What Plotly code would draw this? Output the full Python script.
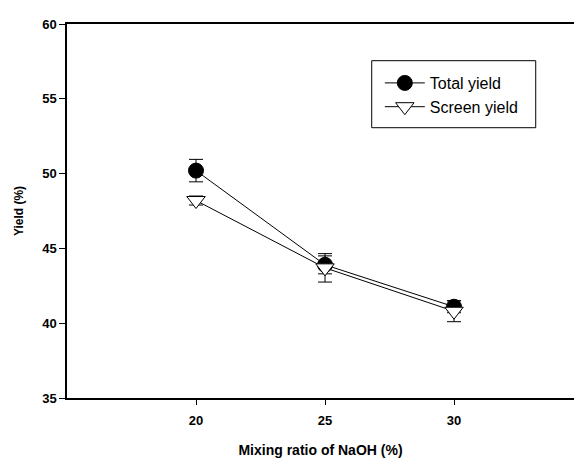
import plotly.graph_objects as go

x_vals = [20, 25, 30]
total_yield = [50.2, 43.9, 41.1]
total_err = [0.75, 0.6, 0.4]
screen_yield = [48.2, 43.7, 40.8]
screen_err = [0.3, 0.95, 0.7]
x_ticks = [20, 25, 30]
y_ticks = [35, 40, 45, 50, 55, 60]

FONT = "Liberation Sans, Arial, sans-serif"

fig = go.Figure()
fig.add_trace(go.Scatter(
    x=x_vals, y=total_yield, name="Total yield", mode="lines+markers",
    line=dict(color="black", width=1),
    marker=dict(symbol="circle", size=15, color="black", line=dict(color="black", width=1)),
    error_y=dict(type="data", array=total_err, visible=True, color="black", thickness=1, width=7),
))
fig.add_trace(go.Scatter(
    x=x_vals, y=screen_yield, name="Screen yield", mode="lines+markers",
    line=dict(color="black", width=1),
    marker=dict(symbol="triangle-down", size=16, color="white", line=dict(color="black", width=1)),
    error_y=dict(type="data", array=screen_err, visible=True, color="black", thickness=1, width=7),
))

# legend frame
fig.add_shape(type="rect", xref="paper", yref="paper",
              x0=0.601, x1=0.9245, y0=0.7227, y1=0.9019,
              line=dict(color="black", width=1), fillcolor="rgba(0,0,0,0)", layer="above")

fig.update_layout(
    width=574, height=459,
    margin=dict(l=67, r=0, t=24, b=61),
    plot_bgcolor="white", paper_bgcolor="white",
    font=dict(family=FONT, color="black"),
    showlegend=True,
    legend=dict(
        x=0.617, y=(1 - (66 - 24) / 374), xanchor="left", yanchor="top",
        borderwidth=0, bgcolor="rgba(0,0,0,0)",
        font=dict(size=16, family=FONT, color="black"),
        tracegroupgap=0, itemwidth=40,
    ),
    xaxis=dict(
        range=[15, 34.65], tickvals=x_ticks, ticktext=["<b>%d</b>" % v for v in x_ticks],
        showgrid=False, zeroline=False, showline=True, linecolor="black", linewidth=1.5,
        mirror=True, ticks="outside", ticklen=5, tickcolor="black",
        ticklabelstandoff=5,
        tickfont=dict(size=13, family=FONT),
        title=dict(text="<b>Mixing ratio of NaOH (%)</b>", font=dict(size=14), standoff=18),
    ),
    yaxis=dict(
        range=[35, 60], tickvals=y_ticks, ticktext=["<b>%d</b>" % v for v in y_ticks],
        showgrid=False, zeroline=False, showline=True, linecolor="black", linewidth=1.5,
        ticks="outside", ticklen=6, tickcolor="black",
        tickfont=dict(size=13, family=FONT),
        title=dict(text="<b>Yield (%)</b>", font=dict(size=12), standoff=16),
    ),
)

fig.write_html("out.html")
